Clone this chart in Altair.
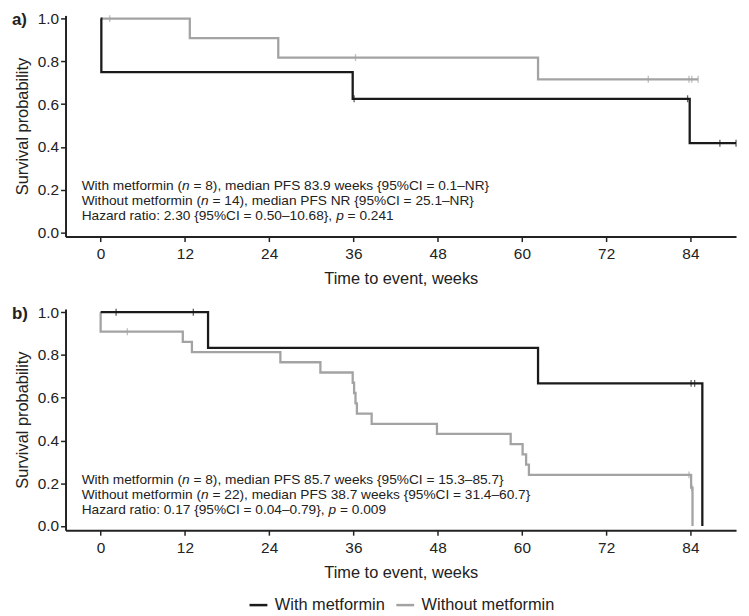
import altair as alt
import pandas as pd

# ---------------- data ----------------
groups = ["With metformin", "Without metformin"]
colors = ["#1a1a1a", "#a3a3a3"]
week_ticks = [0, 12, 24, 36, 48, 60, 72, 84]
prob_ticks = [0.0, 0.2, 0.4, 0.6, 0.8, 1.0]

# panel a) Kaplan-Meier step points (time in weeks, survival probability)
a_with_t = [0, 0.1, 35.9, 83.9, 90.5]
a_with_s = [1.0, 0.75, 0.625, 0.417, 0.417]
a_wo_t = [0, 12.7, 25.3, 62.3, 85.1]
a_wo_s = [1.0, 0.909, 0.818, 0.716, 0.716]
# censored observations
a_with_cens_t = [36.1, 83.6, 88.2, 90.5]
a_with_cens_s = [0.625, 0.625, 0.417, 0.417]
a_wo_cens_t = [1.3, 36.3, 78.0, 83.8, 84.2, 85.1]
a_wo_cens_s = [1.0, 0.818, 0.716, 0.716, 0.716, 0.716]

# panel b)
b_with_t = [0, 15.3, 62.3, 85.7]
b_with_s = [1.0, 0.833, 0.667, 0.0]
b_wo_t = [0, 0, 11.7, 13.0, 25.6, 31.3, 35.9, 36.1, 36.3, 36.5, 38.6, 47.9,
          58.4, 60.1, 60.6, 61.0, 84.1, 84.3]
b_wo_s = [1.0, 0.909, 0.861, 0.813, 0.766, 0.718, 0.670, 0.622, 0.574, 0.526,
          0.478, 0.431, 0.383, 0.335, 0.287, 0.239, 0.179, 0.0]
b_with_cens_t = [2.2, 13.2, 84.1, 84.6]
b_with_cens_s = [1.0, 1.0, 0.667, 0.667]
b_wo_cens_t = [3.8, 83.8, 84.2]
b_wo_cens_s = [0.909, 0.239, 0.179]

# annotation texts: list of lines, each a list of (segment, italic)
a_notes = [
    [("With metformin (", False), ("n", True), (" = 8), median PFS 83.9 weeks {95%CI = 0.1–NR}", False)],
    [("Without metformin (", False), ("n", True), (" = 14), median PFS NR {95%CI = 25.1–NR}", False)],
    [("Hazard ratio: 2.30 {95%CI = 0.50–10.68}, ", False), ("p", True), (" = 0.241", False)],
]
b_notes = [
    [("With metformin (", False), ("n", True), (" = 8), median PFS 85.7 weeks {95%CI = 15.3–85.7}", False)],
    [("Without metformin (", False), ("n", True), (" = 22), median PFS 38.7 weeks {95%CI = 31.4–60.7}", False)],
    [("Hazard ratio: 0.17 {95%CI = 0.04–0.79}, ", False), ("p", True), (" = 0.009", False)],
]

# ---------------- styling ----------------
FONT = "Liberation Sans"
INK = "#222222"
NOTE_FS = 13.8
W_PLOT = 676
H_PLOT = 223

# Arial / Liberation Sans advance widths (per 1000 em)
ADV = {" ": 278, "(": 333, ")": 333, ",": 278, ".": 278, "=": 584, "{": 334,
       "}": 334, "%": 889, "–": 556, ":": 278,
       "A": 667, "C": 722, "F": 611, "H": 722, "I": 278, "N": 722, "P": 667,
       "R": 722, "S": 667, "W": 944,
       "a": 556, "b": 556, "c": 500, "d": 556, "e": 556, "f": 278, "h": 556,
       "i": 222, "k": 500, "l": 222, "m": 833, "n": 556, "o": 556, "p": 556,
       "r": 333, "s": 500, "t": 278, "u": 556, "v": 500, "w": 722, "y": 500,
       "z": 500}


def text_width(s, size):
    return sum(ADV.get(c, 556) for c in s) / 1000.0 * size


x_scale = alt.Scale(domain=[-5, 90.5], nice=False, zero=False)
y_scale = alt.Scale(domain=[-0.02, 1.015], nice=False, zero=False)
x_enc = alt.X("t:Q", scale=x_scale,
              axis=alt.Axis(values=week_ticks, format="d", title="Time to event, weeks"))
y_enc = alt.Y("s:Q", scale=y_scale,
              axis=alt.Axis(values=prob_ticks, format=".1f", title="Survival probability"))
color_enc = alt.Color("group:N", scale=alt.Scale(domain=groups, range=colors),
                      legend=alt.Legend(title=None))
color_nolegend = alt.Color("group:N", scale=alt.Scale(domain=groups, range=colors), legend=None)


def km(t, s, g):
    return pd.DataFrame({"t": t, "s": s, "group": g, "i": list(range(len(t)))})


def panel(label, with_t, with_s, wo_t, wo_s, cw_t, cw_s, cwo_t, cwo_s, notes):
    curves = pd.concat([km(wo_t, wo_s, groups[1]), km(with_t, with_s, groups[0])])
    cens = pd.concat([km(cwo_t, cwo_s, groups[1]), km(cw_t, cw_s, groups[0])])
    lines = alt.Chart(curves).mark_line(interpolate="step-after", strokeWidth=2.3).encode(
        x=x_enc, y=y_enc, color=color_enc, order="i:Q", detail="group:N")
    ticks = alt.Chart(cens).mark_tick(orient="vertical", size=7, thickness=1.3).encode(
        x=x_enc, y=y_enc, color=color_nolegend)
    layers = [lines, ticks]
    note_x = -2.7
    note_y = [0.215, 0.145, 0.075]
    for line, yy in zip(notes, note_y):
        off = 0.0
        for seg, ital in line:
            lead = len(seg) - len(seg.lstrip(" "))
            shown = seg.strip(" ")
            df = pd.DataFrame({"t": [note_x], "s": [yy], "txt": [shown]})
            layers.append(alt.Chart(df).mark_text(
                align="left", baseline="middle", dx=off + text_width(" " * lead, NOTE_FS),
                font=FONT, fontSize=NOTE_FS,
                fontStyle="italic" if ital else "normal", color=INK).encode(
                x=x_enc, y=y_enc, text="txt:N"))
            off += text_width(seg, NOTE_FS)
    lab = alt.Chart(pd.DataFrame({"lab": [label]})).mark_text(
        align="left", baseline="middle", font=FONT, fontSize=17, fontWeight="bold",
        color=INK).encode(x=alt.value(-54), y=alt.value(4.8), text="lab:N")
    layers.append(lab)
    return alt.layer(*layers).properties(width=W_PLOT, height=H_PLOT)


pa = panel("a)", a_with_t, a_with_s, a_wo_t, a_wo_s, a_with_cens_t, a_with_cens_s,
           a_wo_cens_t, a_wo_cens_s, a_notes)
pb = panel("b)", b_with_t, b_with_s, b_wo_t, b_wo_s, b_with_cens_t, b_with_cens_s,
           b_wo_cens_t, b_wo_cens_s, b_notes)

chart = alt.vconcat(pa, pb, spacing=17).properties(
    padding={"left": 4, "top": 0, "right": 0, "bottom": 0}
).configure(font=FONT).configure_view(stroke=None).configure_axis(
    grid=False, domainColor=INK, domainWidth=2, tickColor=INK, tickWidth=1.5,
    tickSize=5, labelColor=INK, labelFont=FONT, labelFontSize=15.5, labelPadding=4,
    titleColor=INK, titleFont=FONT, titleFontSize=16.5, titleFontWeight="normal",
).configure_axisX(titlePadding=9, labelPadding=5).configure_axisY(titlePadding=7, labelPadding=2).configure_legend(
    orient="none", legendX=184, legendY=584, direction="horizontal",
    labelFont=FONT, labelFontSize=16.5, labelColor=INK, symbolType="stroke",
    symbolStrokeWidth=2.5, symbolSize=324, labelOffset=6, columnPadding=6,
)

chart.save("out.html", embed_options={"renderer": "svg", "actions": False})
